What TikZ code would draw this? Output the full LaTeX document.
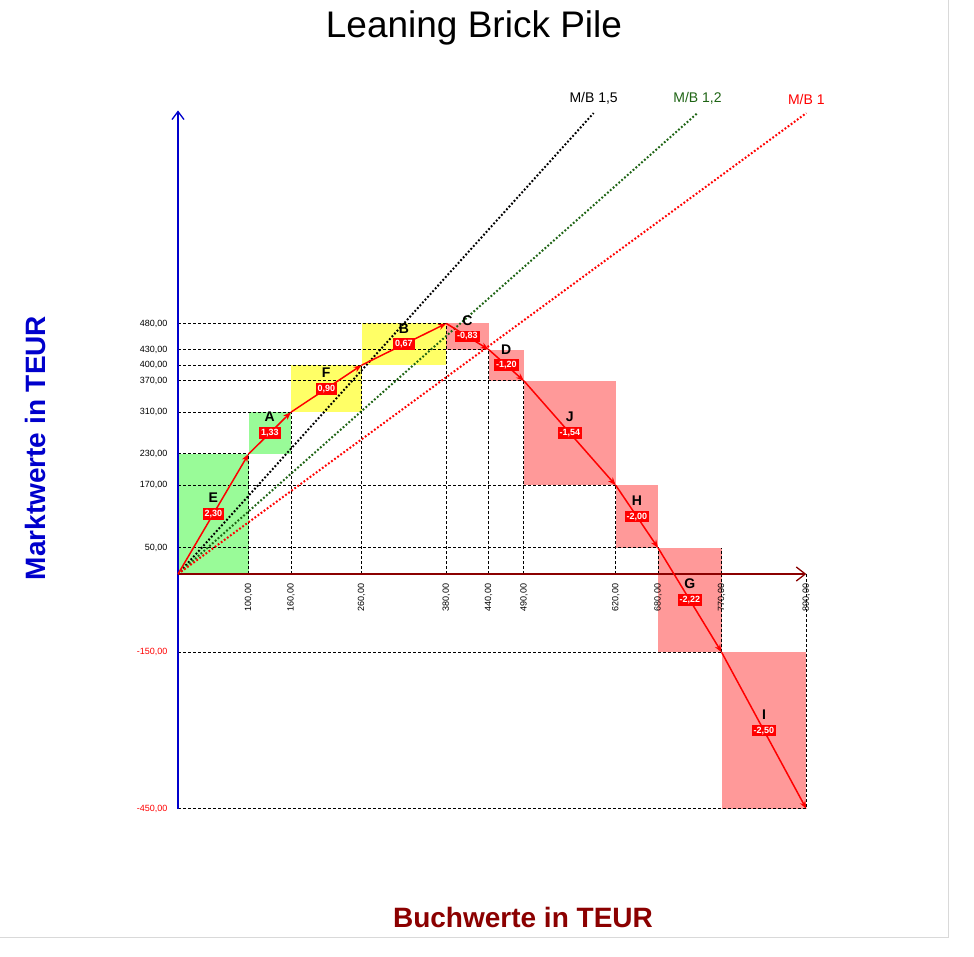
\documentclass[tikz,border=0pt]{standalone}
\usepackage{fontspec}
\setmainfont{Liberation Sans}
\usetikzlibrary{arrows.meta,calc}
\definecolor{gfill}{HTML}{99FB98}
\definecolor{yfill}{HTML}{FFFF66}
\definecolor{rfill}{HTML}{FF9999}
\definecolor{dgreen}{HTML}{1E6414}
\definecolor{dred}{HTML}{8B0000}
\definecolor{ablue}{HTML}{0000CC}
\tikzset{
  grid/.style={black, dash pattern=on 3pt off 2pt, line width=0.9pt},
  seg/.style={red, line width=1.5pt, -{Stealth[length=8pt,width=6pt]}},
  valbox/.style={fill=red, text=white, font=\fontsize{9}{10}\selectfont\bfseries, inner sep=2pt},
  letter/.style={font=\fontsize{14}{15}\selectfont\bfseries},
  ytl/.style={anchor=east, font=\fontsize{9}{10}\selectfont},
  xtl/.style={anchor=east, rotate=90, font=\fontsize{9}{10}\selectfont},
  mb/.style={line width=2pt, dash pattern=on 1.8pt off 2pt},
}
\begin{document}
\begin{tikzpicture}[x=1pt,y=1pt]
\useasboundingbox (0,0) rectangle (974,-957);
\fill[white] (0,0) rectangle (974,-957);
\draw[gray!30] (948,0) -- (948,-937) -- (0,-937);
\node[font=\fontsize{37}{42}\selectfont] (title) at (474,-28) {Leaning Brick Pile};
\node[font=\fontsize{28}{32}\selectfont\bfseries, text=ablue, rotate=90] (ylab) at (35,-448) {Marktwerte in TEUR};
\node[font=\fontsize{28}{32}\selectfont\bfseries, text=dred] (xlab) at (523,-917) {Buchwerte in TEUR};
\begin{scope}[shift={(178pt,-574pt)}, x=0.706pt, y=0.522pt]
% bricks
\fill[gfill] (0,0) rectangle (100,230);
\fill[gfill] (100,230) rectangle (160,310);
\fill[yfill] (160,310) rectangle (260,400);
\fill[yfill] (260,400) rectangle (380,480);
\fill[rfill] (380,480) rectangle (440,430);
\fill[rfill] (440,430) rectangle (490,370);
\fill[rfill] (490,370) rectangle (620,170);
\fill[rfill] (620,170) rectangle (680,50);
\fill[rfill] (680,50) rectangle (770,-150);
\fill[rfill] (770,-150) rectangle (890,-450);
% points
\coordinate (P0) at (0,0);
\coordinate (PE) at (100,230);
\coordinate (PA) at (160,310);
\coordinate (PF) at (260,400);
\coordinate (PB) at (380,480);
\coordinate (PC) at (440,430);
\coordinate (PD) at (490,370);
\coordinate (PJ) at (620,170);
\coordinate (PH) at (680,50);
\coordinate (PG) at (770,-150);
\coordinate (PI) at (890,-450);
% grid
\foreach \x/\y in {100/230,160/310,260/400,380/480,440/430,490/370,620/170,680/50,770/-150,890/-450}{
  \draw[grid] (0,\y) -- (\x,\y);
  \draw[grid] (\x,0) -- (\x,\y);
}
\draw[grid] (770,0) -- (770,50);
% M/B lines
\coordinate (M15) at (588.7,883);
\coordinate (M12) at (735.8,883);
\coordinate (M1) at (890,883);
\draw[mb, black] (P0) -- (M15);
\draw[mb, dgreen] (P0) -- (M12);
\draw[mb, red] (P0) -- (M1);
\node[font=\fontsize{14}{16}\selectfont, black, anchor=south] (L15) at ([yshift=5pt]M15) {M/B 1,5};
\node[font=\fontsize{14}{16}\selectfont, dgreen, anchor=south] (L12) at ([yshift=5pt]M12) {M/B 1,2};
\node[font=\fontsize{14}{16}\selectfont, red, anchor=south] (L1) at ([yshift=5pt]M1) {M/B 1};
% axes
\coordinate (ytop) at (0,888);
\coordinate (ybot) at (0,-450);
\coordinate (xend) at (890,0);
\draw[ablue, line width=1.3pt, -{Straight Barb[length=8pt,width=12pt]}] (ybot) -- (ytop);
\draw[dred, line width=1.3pt, -{Straight Barb[length=9pt,width=14pt]}] (P0) -- (xend);
% tick labels
\foreach \y/\t in {480/480,430/430,400/400,370/370,310/310,230/230,170/170,50/50}{
  \node[ytl] at ([xshift=-7pt]0,\y) {\t,00};
}
\foreach \y/\t in {-150/-150,-450/-450}{
  \node[ytl, text=red] at ([xshift=-7pt]0,\y) {\t,00};
}
\foreach \x in {100,160,260,380,440,490,620,680,770,890}{
  \node[xtl] at ([yshift=-6pt]\x,0) {\x,00};
}
% path
\draw[seg] (P0) -- (PE);
\draw[seg] (PE) -- (PA);
\draw[seg] (PA) -- (PF);
\draw[seg] (PF) -- (PB);
\draw[seg] (PB) -- (PC);
\draw[seg] (PC) -- (PD);
\draw[seg] (PD) -- (PJ);
\draw[seg] (PJ) -- (PH);
\draw[seg] (PH) -- (PG);
\draw[seg] (PG) -- (PI);
% labels
\foreach \a/\b/\l/\v in {P0/PE/E/{2,30},PE/PA/A/{1,33},PA/PF/F/{0,90},PF/PB/B/{0,67},PB/PC/C/{-0,83},PC/PD/D/{-1,20},PD/PJ/J/{-1,54},PJ/PH/H/{-2,00},PH/PG/G/{-2,22},PG/PI/I/{-2,50}}{
  \node[valbox] (v\l) at ($(\a)!0.5!(\b)$) {\v};
  \node[letter] (n\l) at ([yshift=16pt]v\l.center) {\l};
}
\end{scope}
\end{tikzpicture}
\end{document}
